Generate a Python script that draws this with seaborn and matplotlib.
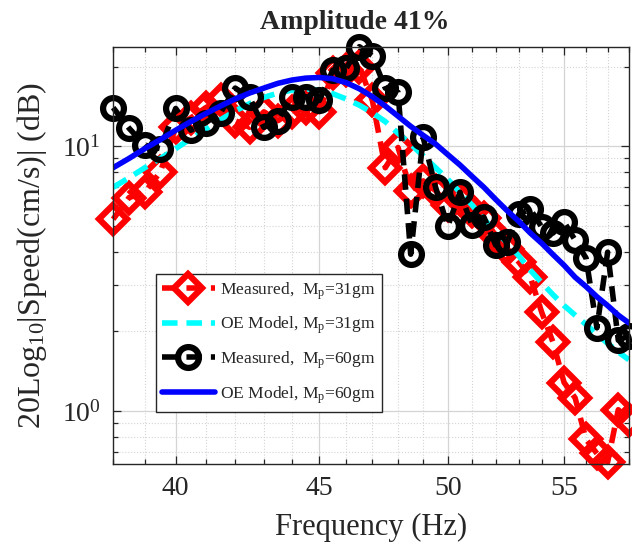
import matplotlib
matplotlib.use("Agg")
import matplotlib.pyplot as plt
import matplotlib.ticker as mticker
import seaborn as sns

# frequency sweep (Hz)
freq = [38.0, 38.5, 39.0, 39.5, 40.0, 40.5, 41.0, 41.5, 42.0, 42.5,
        43.0, 43.5, 44.0, 44.5, 45.0, 45.5, 46.0, 46.5, 47.0, 47.5,
        48.0, 48.5, 49.0, 49.5, 50.0, 50.5, 51.0, 51.5, 52.0, 52.5,
        53.0, 53.5, 54.0, 54.5, 55.0, 55.5, 56.0, 56.5, 57.0, 57.5, 58.0]

meas_31 = [5.3, 6.4, 6.7, 8.0, 11.8, 12.8, 14.0, 15.0, 12.5, 11.8,
           13.5, 12.5, 13.5, 14.0, 13.5, 19.0, 19.5, 20.0, 14.9, 8.3,
           9.9, 6.8, 7.4, 6.8, 6.0, 6.3, 5.7, 5.35, 4.6, 4.1,
           3.65, 3.2, 2.36, 1.82, 1.28, 1.12, 0.78, 0.69, 0.64, 1.01, 0.92]

model_31 = [7.0, 7.6, 8.3, 9.0, 9.8, 10.7, 11.6, 12.6, 13.6, 14.5,
            15.3, 15.9, 16.3, 16.5, 16.3, 15.8, 15.1, 14.3, 13.4, 12.4,
            11.2, 10.2, 9.2, 8.3, 7.5, 6.7, 6.0, 5.3, 4.8, 4.3,
            3.85, 3.4, 3.05, 2.75, 2.5, 2.3, 2.12, 1.95, 1.8, 1.67, 1.56]

meas_60 = [14.0, 11.7, 10.1, 9.8, 13.9, 11.5, 12.3, 13.4, 16.6, 15.3,
           11.8, 12.5, 15.4, 15.4, 14.9, 19.4, 19.7, 23.8, 22.0, 16.6,
           16.0, 3.91, 10.8, 7.0, 4.99, 6.7, 5.03, 5.4, 4.23, 4.34,
           5.54, 5.78, 4.95, 4.70, 5.17, 4.42, 3.78, 2.06, 3.98, 1.85, 1.92]

model_60 = [8.3, 9.0, 9.8, 10.6, 11.5, 12.4, 13.3, 14.2, 15.1, 15.9,
            16.6, 17.3, 17.8, 18.1, 18.2, 18.0, 17.4, 16.5, 15.4, 14.2,
            13.0, 11.9, 11.0, 10.2, 9.3, 8.5, 7.7, 7.0, 6.3, 5.7,
            5.2, 4.7, 4.3, 3.9, 3.55, 3.2, 2.95, 2.7, 2.5, 2.3, 2.15]

sns.set_style("ticks")
plt.rcParams["font.family"] = ["Liberation Serif", "DejaVu Serif"]
plt.rcParams["mathtext.fontset"] = "custom"
plt.rcParams["mathtext.rm"] = "Liberation Serif"
plt.rcParams["mathtext.it"] = "Liberation Serif:italic"

fig = plt.figure(figsize=(6.32, 5.42), dpi=100)
ax = fig.add_axes([0.179, 0.144, 0.816, 0.769])

dash = (0, (2.8, 1.6))
sns.lineplot(x=freq, y=meas_31, ax=ax, color="#ff0000", lw=4, linestyle=dash,
             marker="D", ms=14, mfc="none", mec="#ff0000", mew=4.5,
             clip_on=False, label=r"Measured,  M$_{\mathrm{p}}$=31gm")
sns.lineplot(x=freq, y=model_31, ax=ax, color="#00ffff", lw=4, linestyle=dash,
             label=r"OE Model, M$_{\mathrm{p}}$=31gm")
sns.lineplot(x=freq, y=meas_60, ax=ax, color="black", lw=4, linestyle=dash,
             marker="o", ms=15, mfc="none", mec="black", mew=4.5,
             clip_on=False, label=r"Measured,  M$_{\mathrm{p}}$=60gm")
sns.lineplot(x=freq, y=model_60, ax=ax, color="#0000ff", lw=4,
             label=r"OE Model, M$_{\mathrm{p}}$=60gm")

ax.set_xscale("log")
ax.set_yscale("log")
ax.set_xlim(38, 58)
ax.set_ylim(0.63, 23.7)

ax.set_xticks([40, 45, 50, 55])
ax.xaxis.set_major_formatter(mticker.ScalarFormatter())
ax.xaxis.set_minor_locator(mticker.FixedLocator(range(38, 59)))
ax.xaxis.set_minor_formatter(mticker.NullFormatter())
ax.yaxis.set_major_locator(mticker.LogLocator(base=10))
ax.yaxis.set_minor_locator(mticker.LogLocator(base=10, subs=range(2, 10)))
ax.yaxis.set_minor_formatter(mticker.NullFormatter())

ax.grid(True, which="major", color="#d4d4d4", lw=0.9)
ax.grid(True, which="minor", color="#d4d4d4", lw=0.8, ls=":")
ax.tick_params(which="both", direction="in", top=True, right=True,
               colors="#262626", labelsize=20, width=0.9)
ax.tick_params(which="major", length=6, pad=9)
ax.tick_params(which="minor", length=3.5)
for s in ax.spines.values():
    s.set_color("#262626")
    s.set_linewidth(1.0)

ax.set_xlabel("Frequency (Hz)", fontsize=22, color="#262626", labelpad=8)
ax.set_ylabel(r"20Log$_{10}$|Speed(cm/s)| (dB)", fontsize=23, color="#262626", labelpad=9)
ax.set_title("Amplitude 41%", fontsize=20, fontweight="bold", pad=13, x=0.469)

leg = ax.legend(loc="lower left", bbox_to_anchor=(0.083, 0.125), fontsize=12.6,
                frameon=True, fancybox=False, framealpha=1, edgecolor="#262626",
                handlelength=3.0, handletextpad=0.3, borderpad=0.35,
                labelspacing=0.75, borderaxespad=0)
leg.get_frame().set_linewidth(1.0)

fig.savefig("out.png", dpi=100)
